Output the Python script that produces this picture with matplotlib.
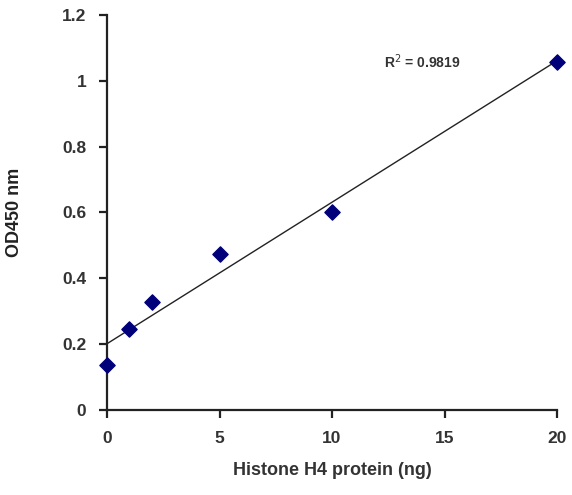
import matplotlib.pyplot as plt
import numpy as np

plt.rcParams['font.family'] = ['Liberation Sans', 'DejaVu Sans']

# data
protein_ng = np.array([0, 1, 2, 5, 10, 20])
od450 = np.array([0.135, 0.247, 0.327, 0.472, 0.600, 1.058])
r2_text = 'R$^2$ = 0.9819'

fig = plt.figure(figsize=(5.72, 4.95), dpi=100)
ax = fig.add_axes([0.187, 0.172, 0.787, 0.798])

# linear trend line
slope, intercept = np.polyfit(protein_ng, od450, 1)
xs = np.array([0, 20])
ax.plot(xs, slope * xs + intercept, color='#222222', lw=1.0, zorder=2)

ax.scatter(protein_ng, od450, marker='D', s=60, color='#00007a',
           edgecolors='#00007a', zorder=3, clip_on=False)

ax.text(12.3, 1.04, r2_text, fontsize=10, color='#333333', fontweight='bold')

ax.set_xlim(0, 20)
ax.set_ylim(0, 1.2)
ax.set_xticks([0, 5, 10, 15, 20])
ax.set_yticks([0, 0.2, 0.4, 0.6, 0.8, 1.0, 1.2])
ax.set_yticklabels(['0', '0.2', '0.4', '0.6', '0.8', '1', '1.2'])

for s in ['top', 'right']:
    ax.spines[s].set_visible(False)
for s in ['left', 'bottom']:
    ax.spines[s].set_linewidth(1.6)
    ax.spines[s].set_color('#222222')

ax.tick_params(direction='out', length=6, width=1.6, color='#222222',
               labelsize=12.5, labelcolor='#333333', pad=9)
for lab in ax.get_xticklabels() + ax.get_yticklabels():
    lab.set_fontweight('bold')

ax.set_xlabel('Histone H4 protein (ng)', fontsize=13, fontweight='bold',
              color='#333333', labelpad=12)
ax.set_ylabel('OD450 nm', fontsize=13, fontweight='bold',
              color='#222222', labelpad=28)

plt.savefig('out.png')
